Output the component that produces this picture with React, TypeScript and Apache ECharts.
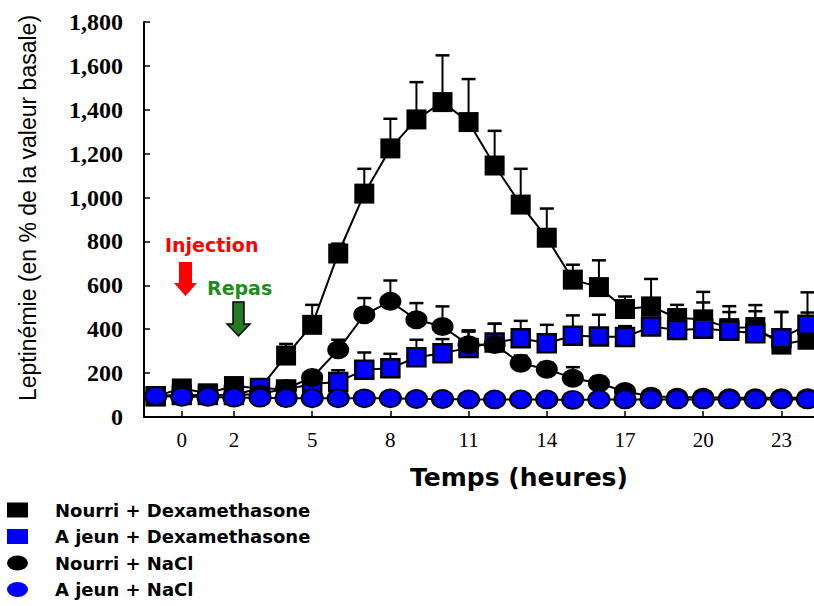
import React, { useEffect, useRef } from 'react';
import * as echarts from 'echarts';

const hours = [-1, 0, 1, 2, 3, 4, 5, 6, 7, 8, 9, 10, 11, 12, 13, 14, 15, 16, 17, 18, 19, 20, 21, 22, 23, 24];
const xTickValues = [0, 2, 5, 8, 11, 14, 17, 20, 23];

const nourriDex = [95, 130, 108, 141, 130, 280, 420, 745, 1018, 1224, 1356, 1435, 1344, 1146, 968, 817, 626, 592, 492, 504, 451, 445, 405, 410, 330, 352];
const nourriDexErr = [0, 15, 10, 15, 10, 53, 91, 45, 113, 135, 170, 213, 196, 158, 163, 133, 68, 122, 57, 125, 60, 125, 100, 100, 148, 124];

const ajeunDex = [95, 100, 100, 100, 132, 125, 150, 160, 215, 222, 272, 291, 315, 340, 359, 336, 370, 367, 364, 412, 397, 402, 393, 382, 359, 420];
const ajeunDexErr = [0, 0, 0, 0, 10, 10, 20, 53, 79, 66, 80, 64, 80, 85, 79, 84, 93, 99, 50, 60, 50, 120, 85, 100, 120, 148];

const nourriNaCl = [95, 100, 100, 100, 105, 130, 180, 306, 466, 527, 443, 412, 329, 330, 245, 218, 177, 154, 116, 95, 90, 90, 88, 88, 88, 88];
const nourriNaClErr = [0, 0, 0, 0, 0, 10, 20, 46, 76, 95, 76, 92, 60, 95, 35, 30, 50, 30, 15, 0, 0, 0, 0, 0, 0, 0];

const ajeunNaCl = [95, 92, 92, 88, 88, 86, 85, 85, 85, 85, 82, 82, 80, 80, 80, 80, 78, 80, 80, 80, 80, 80, 80, 80, 80, 80];

const seriesNames = ['Nourri + Dexamethasone', 'A jeun + Dexamethasone', 'Nourri + NaCl', 'A jeun + NaCl'];

const ELLIPSE = 'path://M0,9a11,9 0 1,0 22,0a11,9 0 1,0 -22,0z';
const LEGEND_ELLIPSE = 'path://M0,7.5a10.5,7.5 0 1,0 21,0a10.5,7.5 0 1,0 -21,0z';

function pairs(vals: number[]) {
  return hours.map((h, i) => [h, vals[i]]);
}
function triples(vals: number[], errs: number[]) {
  return hours.map((h, i) => [h, vals[i], errs[i]]);
}

function errorSeries(vals: number[], errs: number[], z: number) {
  return {
    type: 'custom',
    z,
    silent: true,
    encode: { x: 0, y: 1 },
    data: triples(vals, errs),
    renderItem: (params: any, api: any) => {
      const x = api.value(0);
      const y = api.value(1);
      const e = api.value(2);
      if (!e) return null;
      const p0 = api.coord([x, y]);
      const p1 = api.coord([x, y + e]);
      return {
        type: 'group',
        children: [
          { type: 'line', shape: { x1: p0[0], y1: p0[1], x2: p1[0], y2: p1[1] }, style: { stroke: '#000', lineWidth: 2 } },
          { type: 'line', shape: { x1: p1[0] - 7, y1: p1[1], x2: p1[0] + 7, y2: p1[1] }, style: { stroke: '#000', lineWidth: 2.5 } },
        ],
      };
    },
  };
}

export default function App() {
  const ref = useRef<HTMLDivElement>(null);
  useEffect(() => {
    if (!ref.current) return;
    const chart = echarts.init(ref.current, null, { renderer: 'svg' });
    const option: any = {
      animation: false,
      backgroundColor: '#fff',
      grid: { left: 144, top: 22, right: 0, bottom: 189 },
      xAxis: {
        type: 'value',
        min: -1.45,
        max: 24.25,
        splitLine: { show: false },
        axisLine: { onZero: false, lineStyle: { color: '#000', width: 2 } },
        axisTick: { inside: true, length: 6, customValues: xTickValues, lineStyle: { color: '#000', width: 1.5 } },
        axisLabel: { customValues: xTickValues, color: '#000', fontFamily: 'Liberation Serif', fontSize: 21, margin: 12 },
        name: 'Temps (heures)',
        nameLocation: 'middle',
        nameGap: 48,
        nameTextStyle: { color: '#000', fontFamily: 'DejaVu Sans', fontWeight: 'bold', fontSize: 25, padding: [0, 0, 0, 80] },
      },
      yAxis: {
        type: 'value',
        min: 0,
        max: 1800,
        interval: 200,
        splitLine: { show: false },
        axisLine: { show: true, onZero: false, lineStyle: { color: '#000', width: 2 } },
        axisTick: { show: true, inside: true, length: 6, lineStyle: { color: '#000', width: 1.5 } },
        axisLabel: {
          color: '#000',
          fontFamily: 'Liberation Serif',
          fontWeight: 'bold',
          fontSize: 24,
          margin: 21,
          formatter: (v: number) => v.toLocaleString('en-US'),
        },
        name: 'Leptinémie (en % de la valeur basale)',
        nameLocation: 'middle',
        nameGap: 105,
        nameTextStyle: { color: '#000', fontFamily: 'Liberation Sans', fontSize: 23, padding: [0, 0, 0, 23] },
      },
      legend: {
        orient: 'vertical',
        left: 7,
        top: 501,
        padding: 0,
        itemWidth: 21,
        itemHeight: 15,
        itemGap: 8.5,
        selectedMode: false,
        itemStyle: { borderWidth: 0 },
        textStyle: { color: '#000', fontFamily: 'DejaVu Sans', fontWeight: 'bold', fontSize: 18, padding: [0, 0, 0, 22] },
        data: [
          { name: seriesNames[0], icon: 'rect' },
          { name: seriesNames[1], icon: 'rect' },
          { name: seriesNames[2], icon: LEGEND_ELLIPSE },
          { name: seriesNames[3], icon: LEGEND_ELLIPSE },
        ],
      },
      graphic: [
        { type: 'text', left: 165, top: 235, style: { text: 'Injection', fill: '#ff0000', font: 'bold 19px "DejaVu Sans"' } },
        {
          type: 'polygon',
          shape: { points: [[179, 262], [192, 262], [192, 283], [197, 283], [185.5, 296], [174, 283], [179, 283]] },
          style: { fill: '#ff0000' },
        },
        { type: 'text', left: 207, top: 278, style: { text: 'Repas', fill: '#1e8c1e', font: 'bold 19px "DejaVu Sans"' } },
        {
          type: 'polygon',
          shape: { points: [[233, 302], [244, 302], [244, 324], [250, 324], [238.5, 336], [227, 324], [233, 324]] },
          style: { fill: '#237a23', stroke: '#000', lineWidth: 1.5 },
        },
      ],
      series: [
        errorSeries(nourriDex, nourriDexErr, 1),
        errorSeries(ajeunDex, ajeunDexErr, 1),
        errorSeries(nourriNaCl, nourriNaClErr, 1),
        {
          name: seriesNames[0],
          type: 'line',
          z: 2,
          data: pairs(nourriDex),
          symbol: 'rect',
          symbolSize: 20,
          lineStyle: { color: '#000', width: 2 },
          itemStyle: { color: '#000' },
        },
        {
          name: seriesNames[1],
          type: 'line',
          z: 3,
          data: pairs(ajeunDex),
          symbol: 'rect',
          symbolSize: 18,
          lineStyle: { color: '#000', width: 2 },
          itemStyle: { color: '#0000ff', borderColor: '#000', borderWidth: 2.5 },
        },
        {
          name: seriesNames[2],
          type: 'line',
          z: 4,
          data: pairs(nourriNaCl),
          symbol: ELLIPSE,
          symbolKeepAspect: false,
          symbolSize: [22, 19],
          lineStyle: { color: '#000', width: 2 },
          itemStyle: { color: '#000' },
        },
        {
          name: seriesNames[3],
          type: 'line',
          z: 5,
          data: pairs(ajeunNaCl),
          symbol: ELLIPSE,
          symbolKeepAspect: false,
          symbolSize: [21, 18],
          lineStyle: { color: '#000', width: 2 },
          itemStyle: { color: '#0000ff', borderColor: '#000', borderWidth: 2 },
        },
      ],
    };
    chart.setOption(option);
    return () => chart.dispose();
  }, []);
  return <div ref={ref} style={{ position: 'fixed', left: 0, top: 0, width: 814, height: 606 }} />;
}
